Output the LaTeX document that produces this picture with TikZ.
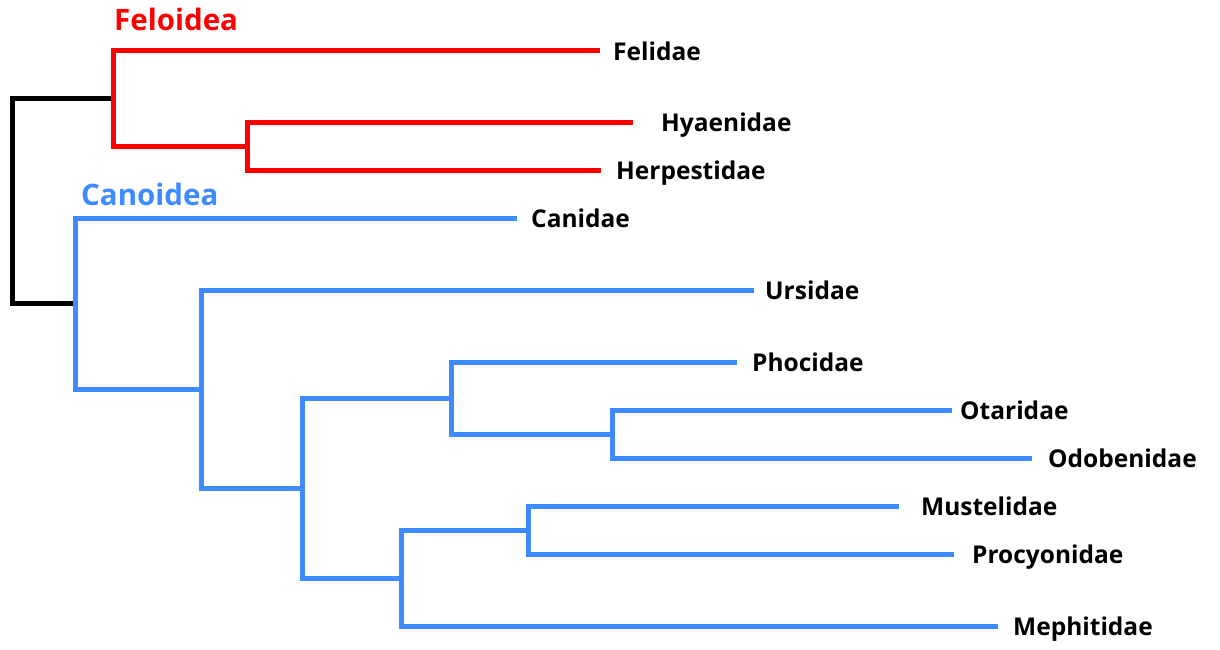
\documentclass[tikz,border=0pt]{standalone}
\usepackage{fontspec}
\setmainfont{Open Sans}
\definecolor{felred}{RGB}{255,0,0}
\definecolor{canblue}{RGB}{61,139,255}
\begin{document}
\begin{tikzpicture}[x=1pt,y=-1pt,
  branch/.style={line width=5pt,line join=miter},
  redb/.style={branch,draw=felred},
  blueb/.style={branch,draw=canblue},
  rootb/.style={branch,draw=black},
  leaf/.style={anchor=base west,inner sep=0pt,font=\bfseries\fontsize{24.5}{24.5}\selectfont,text=black},
  group/.style={anchor=base west,inner sep=0pt,font=\bfseries\fontsize{29.5}{29.5}\selectfont}]
\useasboundingbox (0,0) rectangle (1220,649);
% internal nodes
\coordinate (root) at (12,200.5);
\coordinate (f1) at (113,98);
\coordinate (f2) at (247,146);
\coordinate (c1) at (75,303.5);
\coordinate (c2) at (201,389);
\coordinate (c3) at (302,488);
\coordinate (c4) at (451,398);
\coordinate (c5) at (401,578);
\coordinate (c6) at (612,434);
\coordinate (c7) at (528,530);
% tips
\coordinate (tFel) at (600,50);
\coordinate (tHya) at (633,122);
\coordinate (tHer) at (601,170);
\coordinate (tCan) at (517,218);
\coordinate (tUrs) at (754,290);
\coordinate (tPho) at (737,362);
\coordinate (tOta) at (952,410);
\coordinate (tOdo) at (1032,458);
\coordinate (tMus) at (899,506);
\coordinate (tPro) at (954,554);
\coordinate (tMep) at (998,626);
% root
\draw[rootb] (root) |- (f1);
\draw[rootb] (root) |- (c1);
% feloidea
\draw[redb] (f1) |- (tFel);
\draw[redb] (f1) |- (f2);
\draw[redb] (f2) |- (tHya);
\draw[redb] (f2) |- (tHer);
% canoidea
\draw[blueb] (c1) |- (tCan);
\draw[blueb] (c1) |- (c2);
\draw[blueb] (c2) |- (tUrs);
\draw[blueb] (c2) |- (c3);
\draw[blueb] (c3) |- (c4);
\draw[blueb] (c3) |- (c5);
\draw[blueb] (c4) |- (tPho);
\draw[blueb] (c4) |- (c6);
\draw[blueb] (c6) |- (tOta);
\draw[blueb] (c6) |- (tOdo);
\draw[blueb] (c5) |- (c7);
\draw[blueb] (c5) |- (tMep);
\draw[blueb] (c7) |- (tMus);
\draw[blueb] (c7) |- (tPro);
% group labels
\node[group,text=felred] (gFel) at (114,30) {Feloidea};
\node[group,text=canblue] (gCan) at (81,205) {Canoidea};
% leaf labels
\node[leaf] (lFel) at ([xshift=13pt,yshift=-10pt]tFel) {Felidae};
\node[leaf] (lHya) at ([xshift=28pt,yshift=-9pt]tHya) {Hyaenidae};
\node[leaf] (lHer) at ([xshift=15pt,yshift=-9pt]tHer) {Herpestidae};
\node[leaf] (lCan) at ([xshift=14pt,yshift=-9pt]tCan) {Canidae};
\node[leaf] (lUrs) at ([xshift=11pt,yshift=-9pt]tUrs) {Ursidae};
\node[leaf] (lPho) at ([xshift=15pt,yshift=-9pt]tPho) {Phocidae};
\node[leaf] (lOta) at ([xshift=8pt,yshift=-9pt]tOta) {Otaridae};
\node[leaf] (lOdo) at ([xshift=16pt,yshift=-9pt]tOdo) {Odobenidae};
\node[leaf] (lMus) at ([xshift=22pt,yshift=-9pt]tMus) {Mustelidae};
\node[leaf] (lPro) at ([xshift=18pt,yshift=-9pt]tPro) {Procyonidae};
\node[leaf] (lMep) at ([xshift=15pt,yshift=-9pt]tMep) {Mephitidae};
\end{tikzpicture}
\end{document}
